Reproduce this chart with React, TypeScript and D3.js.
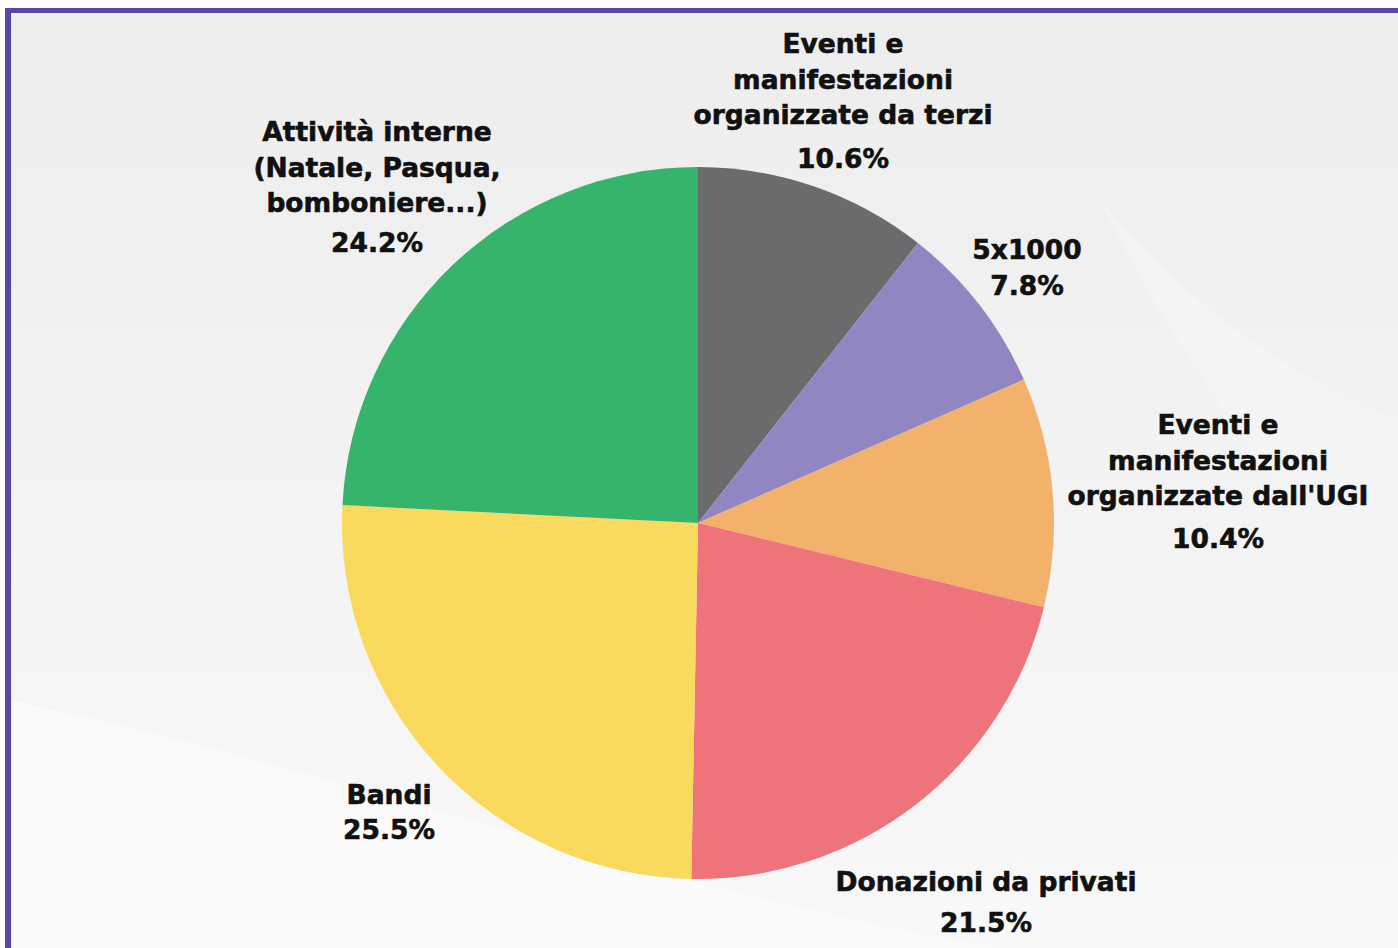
import React from "react";
import * as d3 from "d3";

const categories = [
  "Eventi e manifestazioni organizzate da terzi",
  "5x1000",
  "Eventi e manifestazioni organizzate dall'UGI",
  "Donazioni da privati",
  "Bandi",
  "Attività interne (Natale, Pasqua, bomboniere...)",
];
const values = [10.6, 7.8, 10.4, 21.5, 25.5, 24.2];
const colors = ["#696b6c", "#9286c2", "#f2b26c", "#ef737b", "#f9da5f", "#37b46c"];
const labelLines = [
  ["Eventi e", "manifestazioni", "organizzate da terzi"],
  ["5x1000"],
  ["Eventi e", "manifestazioni", "organizzate dall'UGI"],
  ["Donazioni da privati"],
  ["Bandi"],
  ["Attività interne", "(Natale, Pasqua,", "bomboniere...)"],
];
// label anchor (center x, first baseline y, gap to percent line)
const labelAnchors: [number, number, number][] = [
  [843, 53, 44],
  [1027, 259, 36],
  [1218, 434, 43],
  [986, 891, 41],
  [389, 804, 35],
  [377, 141, 40],
];

const W = 1398;
const H = 948;
const cx = 698;
const cy = 523;
const R = 356;

export default function App() {
  const pie = d3.pie<number>().sort(null).value((d) => d)(values);
  const arc = d3.arc<d3.PieArcDatum<number>>().innerRadius(0).outerRadius(R);
  const fmt = d3.format(".1f");
  return (
    <svg
      width={W}
      height={H}
      style={{ position: "absolute", left: 0, top: 0, display: "block" }}
    >
      <defs>
        <linearGradient id="bg" x1="0" y1="0" x2="0" y2="1">
          <stop offset="0" stopColor="#ededed" />
          <stop offset="0.5" stopColor="#f3f3f3" />
          <stop offset="1" stopColor="#f8f8f8" />
        </linearGradient>
      </defs>
      <rect x={0} y={0} width={W} height={H} fill="#ffffff" />
      <rect x={8} y={10} width={W} height={H} fill="url(#bg)" />
      <path d={`M8,700 C300,760 700,900 1000,948 L8,948 Z`} fill="#fafafa" />
      <path d={`M1100,200 C1200,320 1300,380 1398,420 L1398,600 C1300,520 1200,400 1100,200 Z`} fill="#f4f4f4" />
      {/* border */}
      <rect x={5} y={8} width={W - 5} height={5} fill="#5647a8" />
      <rect x={5} y={8} width={6} height={H - 8} fill="#5647a8" />
      <g transform={`translate(${cx},${cy})`}>
        {pie.map((p, i) => (
          <path key={categories[i]} d={arc(p) || ""} fill={colors[i]} />
        ))}
      </g>
      {labelLines.map((lines, i) => {
        const [x, y0, pctGap] = labelAnchors[i];
        const lh = 35.5;
        return (
          <g
            key={categories[i]}
            fontFamily="'DejaVu Sans', sans-serif"
            fontWeight={700}
            fontSize={26.5}
            fill="#111111"
            stroke="#111111"
            strokeWidth={0.6}
            textAnchor="middle"
          >
            {lines.map((l, j) => (
              <text key={j} x={x} y={y0 + j * lh}>
                {l}
              </text>
            ))}
            <text x={x} y={y0 + (lines.length - 1) * lh + pctGap}>
              {fmt(values[i])}%
            </text>
          </g>
        );
      })}
    </svg>
  );
}
